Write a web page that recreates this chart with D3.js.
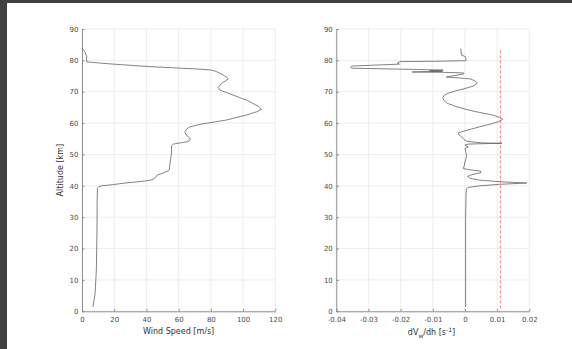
<!DOCTYPE html>
<html>
<head>
<meta charset="utf-8">
<script src="https://cdn.jsdelivr.net/npm/d3@7"></script>
<style>
  body { margin: 0; background: #fff; }
  svg { display: block; font-family: "DejaVu Sans", sans-serif; }
</style>
</head>
<body>
<svg id="chart" width="572" height="349"></svg>
<script>
// wind speed profile (left panel)
const windAlt = [1.4, 5.6, 13.1, 25, 35.4, 39.2, 39.7, 40.0, 40.4, 40.9, 41.2, 41.6, 42.0, 42.5, 43.4, 44.1, 44.8, 45.3, 47.1, 50.3, 52.8, 53.3, 53.8, 54.1, 54.6, 55.3, 56.3, 57.2, 58.1, 58.7, 59.6, 61.0, 62.6, 63.6, 64.4, 65.4, 66.3, 67.3, 68.3, 69.3, 70.5, 71.4, 72.7, 73.7, 74.1, 74.7, 75.3, 75.9, 76.5, 76.9, 77.2, 77.6, 78.0, 78.8, 79.5, 80.3, 81.2, 82.6, 83.8];
const windSpeed = [6.8, 8.1, 8.9, 9.3, 9.4, 9.6, 10.5, 12.2, 19.4, 26.7, 33, 40.1, 44, 45.3, 46.6, 50.5, 53.6, 54.3, 54.6, 55.6, 55.6, 56.7, 62, 66.0, 67.2, 66.8, 64.5, 63.9, 65, 66.5, 73.2, 89.8, 102.2, 108.4, 111.5, 109.4, 106, 102.2, 97, 91.9, 85.7, 84.6, 86.7, 89.8, 90.8, 89.5, 87.7, 85.7, 83.0, 80.5, 73.2, 58, 42.2, 19.4, 2.9, 2.9, 2.9, 1.9, 0.2];

// wind shear profile (right panel)
const shearAlt = [1.4, 10, 20, 30, 35.4, 39.0, 39.5, 40.0, 40.5, 40.9, 41.3, 41.8, 42.4, 43.0, 43.6, 44.2, 44.7, 45.1, 45.5, 46.5, 47.7, 49.3, 50.8, 51.9, 52.4, 52.7, 53.0, 53.3, 53.45, 53.55, 53.7, 54.2, 54.8, 55.6, 56.2, 56.9, 57.4, 58.1, 58.8, 59.7, 60.5, 61.2, 61.8, 62.6, 63.4, 64.2, 65.2, 66.3, 67.3, 68.2, 68.9, 69.6, 70.3, 71.0, 71.8, 72.5, 72.9, 73.5, 74.1, 74.4, 74.7, 75.2, 75.7, 76.0, 76.2, 76.3, 76.5, 76.7, 76.9, 77.1, 77.5, 77.8, 78.2, 78.4, 78.8, 79.2, 79.6, 79.7, 79.9, 80.5, 81.2, 81.7, 83.8];
const shearVal = [0.0002, 0.0002, 0.0002, 0.0002, 0.0003, 0.0004, 0.0010, 0.0047, 0.0110, 0.0192, 0.0110, 0.0047, 0.0016, 0.0008, 0.0022, 0.0050, 0.0048, 0.0016, -0.0005, -0.0002, 0.0, 0.0005, 0.0003, 0.0, 0.0010, 0.0005, 0.0, 0.0010, 0.0060, 0.0115, 0.0050, 0.0005, -0.0003, -0.0010, -0.0018, -0.0021, -0.0005, 0.0020, 0.0045, 0.0080, 0.0105, 0.0117, 0.0108, 0.0085, 0.0045, 0.0010, -0.0025, -0.0055, -0.0066, -0.0069, -0.0064, -0.0050, -0.0028, 0.0, 0.0025, 0.0036, 0.0038, 0.0030, 0.0016, -0.0020, -0.0058, -0.0030, -0.0003, -0.0005, -0.0070, -0.0165, -0.0070, -0.0110, -0.0068, -0.0150, -0.0350, -0.0356, -0.0352, -0.0300, -0.0204, -0.0210, -0.0202, -0.0100, 0.0003, 0.0003, 0.0001, -0.0011, -0.0013];
const shearLimit = 0.011;

const altTicks = [0, 10, 20, 30, 40, 50, 60, 70, 80, 90];
const speedTicks = [0, 20, 40, 60, 80, 100, 120];
const shearTicks = [-0.04, -0.03, -0.02, -0.01, 0, 0.01, 0.02];

const svg = d3.select("#chart");

// dark frame of the screenshot
svg.append("rect").attr("x", 0).attr("y", 0).attr("width", 572).attr("height", 3).attr("fill", "#3f3f3f");
svg.append("rect").attr("x", 0).attr("y", 0).attr("width", 7).attr("height", 349).attr("fill", "#3f3f3f");

const y = d3.scaleLinear().domain([0, 90]).range([311.3, 29]);

function panel(x, xTicks, fmt, xs, ys) {
    const g = svg.append("g");
    const [x0, x1] = x.range();

    // grid
    g.append("g").selectAll("line").data(xTicks).join("line")
        .attr("x1", d => x(d)).attr("x2", d => x(d))
        .attr("y1", y(0)).attr("y2", y(90))
        .attr("stroke", "#e8e8e8").attr("stroke-width", 0.8);
    g.append("g").selectAll("line").data(altTicks).join("line")
        .attr("x1", x0).attr("x2", x1)
        .attr("y1", d => y(d)).attr("y2", d => y(d))
        .attr("stroke", "#e8e8e8").attr("stroke-width", 0.8);

    // curve
    const pts = d3.range(xs.length).map(i => [xs[i], ys[i]]);
    g.append("path")
        .datum(pts)
        .attr("fill", "none")
        .attr("stroke", "#595959")
        .attr("stroke-width", 0.75)
        .attr("d", d3.line().x(d => x(d[0])).y(d => y(d[1])));

    const xAxis = g.append("g")
        .attr("transform", `translate(0, ${y(0)})`)
        .call(d3.axisBottom(x).tickValues(xTicks).tickFormat(fmt).tickSize(-2.5).tickSizeOuter(0).tickPadding(5.5));
    const yAxis = g.append("g")
        .attr("transform", `translate(${x0}, 0)`)
        .call(d3.axisLeft(y).tickValues(altTicks).tickSize(-2.5).tickSizeOuter(0).tickPadding(3.5));

    [xAxis, yAxis].forEach(a => {
        a.select(".domain").attr("stroke", "#777").attr("stroke-width", 0.8);
        a.selectAll(".tick line").attr("stroke", "#777").attr("stroke-width", 0.8);
        a.selectAll("text").attr("fill", "#4a4a4a").style("font-size", "7px").style("font-family", "DejaVu Sans, sans-serif");
    });

    return g;
}

const xWind = d3.scaleLinear().domain([0, 120]).range([82, 275.3]);
const left = panel(xWind, speedTicks, d3.format("d"), windSpeed, windAlt);

left.append("text")
    .attr("x", (82 + 275.3) / 2).attr("y", 334)
    .attr("text-anchor", "middle")
    .attr("fill", "#333").style("font-size", "8px")
    .text("Wind Speed [m/s]");

left.append("text")
    .attr("transform", `translate(63, ${(y(0) + y(90)) / 2}) rotate(-90)`)
    .attr("text-anchor", "middle")
    .attr("fill", "#333").style("font-size", "8px")
    .text("Altitude [km]");

const xShear = d3.scaleLinear().domain([-0.04, 0.02]).range([336.3, 529.3]);
const right = panel(xShear, shearTicks, d => d === 0 ? "0" : String(+d.toFixed(2)), shearVal, shearAlt);

right.append("line")
    .attr("x1", xShear(shearLimit)).attr("x2", xShear(shearLimit))
    .attr("y1", y(d3.min(shearAlt) - 0.5)).attr("y2", y(d3.max(shearAlt)))
    .attr("stroke", "#ff5555")
    .attr("stroke-width", 0.8)
    .attr("stroke-dasharray", "3,2");

const lbl = right.append("text")
    .attr("x", 431.5).attr("y", 335)
    .attr("text-anchor", "middle")
    .attr("fill", "#333").style("font-size", "8px");
lbl.append("tspan").text("dV");
lbl.append("tspan").attr("dy", 2.5).style("font-size", "6px").text("w");
lbl.append("tspan").attr("dy", -2.5).text("/dh [s");
lbl.append("tspan").attr("dy", -3).style("font-size", "6px").text("-1");
lbl.append("tspan").attr("dy", 3).text("]");
</script>
</body>
</html>
